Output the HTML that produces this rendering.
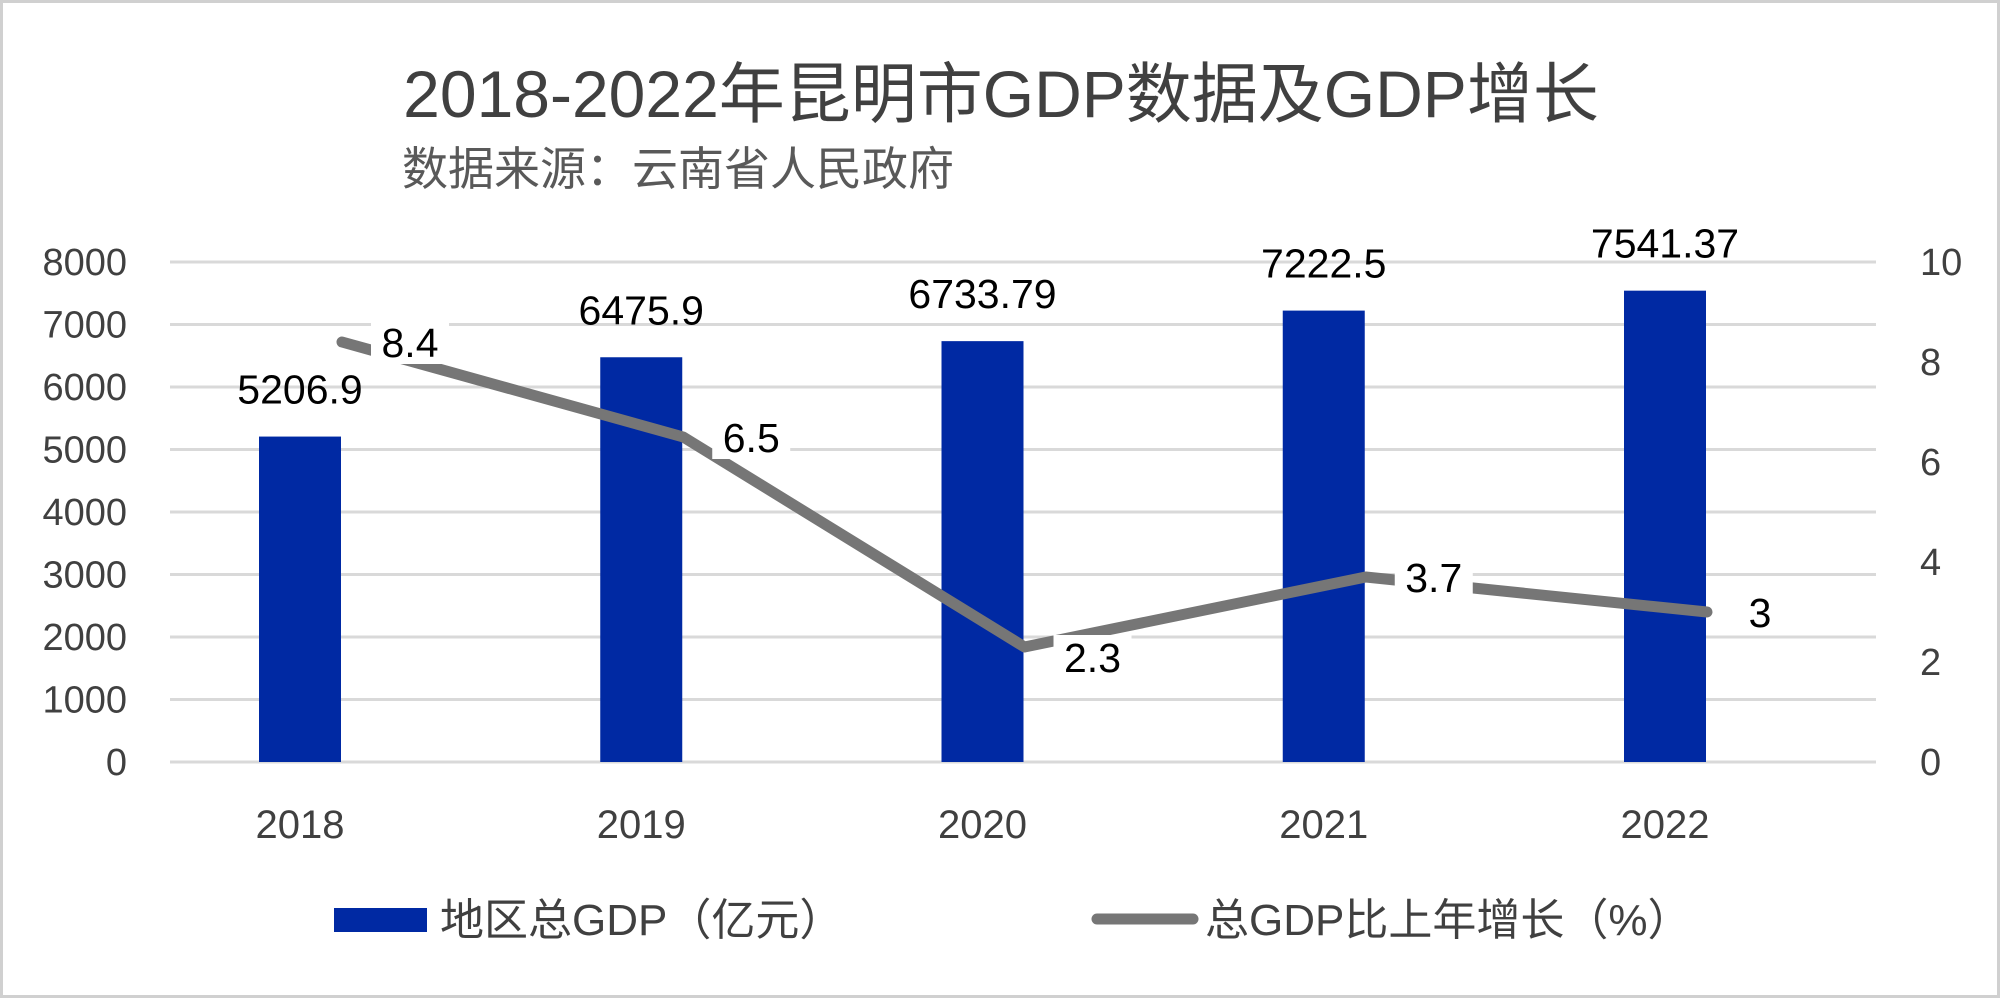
<!DOCTYPE html>
<html><head><meta charset="utf-8">
<style>
html,body{margin:0;padding:0;background:#fff;}
svg{display:block;}
text{font-family:"Liberation Sans","Noto Sans CJK SC",sans-serif;}
</style></head>
<body>
<svg id="chart" width="2000" height="998" viewBox="0 0 2000 998" xmlns="http://www.w3.org/2000/svg">
<rect x="1.5" y="1.5" width="1997" height="995" fill="#fff" stroke="#d0d0d0" stroke-width="3"/>
<text x="1001" y="117" font-size="66" fill="#404040" text-anchor="middle">2018-2022年昆明市GDP数据及GDP增长</text>
<text x="402" y="185" font-size="46" fill="#595959">数据来源：云南省人民政府</text>
<g id="grid"></g><g id="bars"></g><g id="line"></g><g id="labels"></g>
<g>
<rect x="334" y="908" width="93" height="24" fill="#0029A3"/>
<text x="440" y="935" font-size="44" fill="#404040">地区总GDP（亿元）</text>
<line x1="1097" y1="919" x2="1193" y2="919" stroke="#767676" stroke-width="11" stroke-linecap="round"/>
<text x="1205" y="935" font-size="44" fill="#404040">总GDP比上年增长（%）</text>
</g>
</svg>
<script>
const categories=["2018","2019","2020","2021","2022"];
const gdpValues=[5206.9,6475.9,6733.79,7222.5,7541.37];
const gdpLabels=["5206.9","6475.9","6733.79","7222.5","7541.37"];
const growthValues=[8.4,6.5,2.3,3.7,3];
const growthLabels=["8.4","6.5","2.3","3.7","3"];
const leftTicks=[0,1000,2000,3000,4000,5000,6000,7000,8000];
const rightTicks=[0,2,4,6,8,10];
const NS="http://www.w3.org/2000/svg";
const GL=170,GR=1876,T=262,B=762;
const X0=300,STEP=341.25,LINE_DX=42;
const xc=i=>X0+STEP*i;
const yL=v=>B-(v/8000)*(B-T);
const yR=v=>B-(v/10)*(B-T);
function mk(tag,attrs,parent){const e=document.createElementNS(NS,tag);for(const k in attrs)e.setAttribute(k,attrs[k]);document.getElementById(parent).appendChild(e);return e;}
leftTicks.forEach(v=>{
 const g=mk('line',{x1:GL,x2:GR,y1:yL(v),y2:yL(v),stroke:'#d9d9d9','stroke-width':3},'grid');
 
 
 const t=mk('text',{x:127,y:yL(v)+13,'font-size':38,fill:'#404040','text-anchor':'end'},'grid');
 t.textContent=v;
 
 
});
rightTicks.forEach(v=>{
 const t=mk('text',{x:1920,y:yR(v)+13,'font-size':38,fill:'#404040'},'grid');
 t.textContent=v;
 
 
});
categories.forEach((c,i)=>{
 const t=mk('text',{x:xc(i),y:838,'font-size':40,fill:'#404040','text-anchor':'middle'},'grid');
 t.textContent=c;
 
 
 const b=mk('rect',{x:xc(i)-41,y:yL(gdpValues[i]),width:82,height:B-yL(gdpValues[i]),fill:'#0029A3'},'bars');
 
 
 const bl=mk('text',{x:xc(i),y:yL(gdpValues[i])-33,'font-size':41,fill:'#000','text-anchor':'middle'},'labels');
 bl.textContent=gdpLabels[i];
 
 
});
const pts=growthValues.map((v,i)=>(xc(i)+LINE_DX)+','+yR(v)).join(' ');
const pl=mk('polyline',{points:pts,fill:'none',stroke:'#767676','stroke-width':11,'stroke-linecap':'round','stroke-linejoin':'round'},'line');


growthValues.forEach((v,i)=>{
 const x=xc(i)+(i==4?95:110),y=yR(v)+(i==2?10:0);
 const w=growthLabels[i].length>1?70:30;
 const bg=mk('rect',{x:x-w/2-4,y:y-22,width:w+8,height:44,fill:'#fff'},'labels');
 
 
 const t=mk('text',{x:x,y:y+15,'font-size':41,fill:'#000','text-anchor':'middle'},'labels');
 t.textContent=growthLabels[i];
 
 
});
</script>
</body></html>
